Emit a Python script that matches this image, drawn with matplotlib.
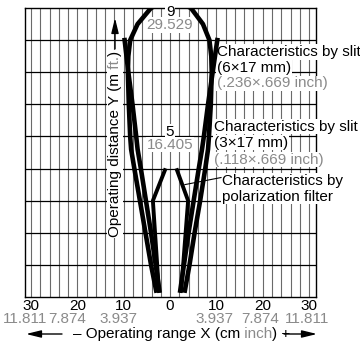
import matplotlib
matplotlib.use("Agg")
import matplotlib.pyplot as plt
from matplotlib.transforms import IdentityTransform

plt.rcParams['font.family'] = ['Liberation Sans', 'DejaVu Sans']

# slit curve reaching 9 m (outer near the bottom)
slit_a_y = [9.3, 9.0, 8.5, 8.0, 7.5, 7.0, 6.0, 5.0, 4.6, 4.0, 3.0, 2.0, 1.0, 0.2]
slit_a_xl = [0.0, -4.1, -7.0, -8.6, -9.0, -9.1, -8.9, -8.6, -8.4, -7.7, -6.5, -5.3, -4.1, -3.0]
slit_a_xr = [0.0, 4.5, 7.1, 8.5, 8.9, 9.0, 8.8, 8.4, 8.2, 7.6, 6.5, 5.3, 4.2, 3.2]

# slit curve starting at 8 m (inner near the bottom)
slit_b_y = [8.0, 7.0, 6.0, 5.0, 4.6, 4.0, 3.0, 2.0, 1.0, 0.2]
slit_b_xl = [-9.8, -9.0, -8.1, -7.3, -7.0, -6.3, -5.2, -4.1, -3.1, -2.3]
slit_b_xr = [10.2, 9.2, 8.2, 7.3, 6.9, 6.2, 5.1, 4.0, 3.0, 2.2]

# polarization filter
polar_y = [3.95, 3.0, 0.2]
polar_xl = [-1.1, -3.7, -2.4]
polar_xr = [1.5, 3.9, 2.4]

x_ticks = [-30, -20, -10, 0, 10, 20, 30]
x_tick_labels = ['30', '20', '10', '0', '10', '20', '30']
inch_ticks = [-30, -20, -10, 10, 20, 30]
inch_labels = ['11.811', '7.874', '3.937', '3.937', '7.874', '11.811']

GRAY = '#8a8a8a'
FS = 11

fig = plt.figure(figsize=(3.6, 3.41), dpi=100)
H = 341
ax = fig.add_axes([25 / 360, 1 - 297 / H, (316 - 25) / 360, (297 - 8) / H])
ax.set_xlim(-31.3, 31.5)
ax.set_ylim(0, 9)

for x in range(-30, 31, 2):
    ax.axvline(x, color='#6a6a6a', lw=0.8, zorder=1)
for y in range(1, 9):
    ax.axhline(y, color='black', lw=0.9, zorder=1)
for s in ax.spines.values():
    s.set_linewidth(1.0)

lw = 3.3
ax.plot(slit_a_xl, slit_a_y, color='black', lw=lw, zorder=4)
ax.plot(slit_a_xr, slit_a_y, color='black', lw=lw, zorder=4)
ax.plot(slit_b_xl, slit_b_y, color='black', lw=lw, zorder=4)
ax.plot(slit_b_xr, slit_b_y, color='black', lw=lw, zorder=4)
ax.plot(polar_xl, polar_y, color='black', lw=2.8, zorder=4)
ax.plot(polar_xr, polar_y, color='black', lw=2.8, zorder=4)

ax.set_xticks(x_ticks)
ax.set_xticklabels(x_tick_labels)
ax.set_yticks([])
ax.tick_params(axis='x', length=0, pad=1.5, labelsize=FS)

offs = [-6, -10, -5, -2, -3, -2]
for t, lab, dx in zip(inch_ticks, inch_labels, offs):
    ax.annotate(lab, xy=(t, 0), xycoords=('data', 'axes fraction'),
                xytext=(dx, -22), textcoords='offset pixels',
                ha='center', va='center', color=GRAY, fontsize=FS,
                annotation_clip=False)

box = dict(facecolor='white', edgecolor='none', pad=0.4)

# distance marks inside the chart
ax.text(0, 8.88, '9', ha='center', va='center', fontsize=FS, bbox=box, zorder=3)
ax.text(0, 8.47, '29.529', ha='center', va='center', fontsize=FS, color=GRAY, bbox=box, zorder=3)
ax.text(0, 5.15, '5', ha='center', va='center', fontsize=FS, bbox=box, zorder=3)
ax.text(0, 4.74, '16.405', ha='center', va='center', fontsize=FS, color=GRAY, bbox=box, zorder=3)

# curve labels
ax.text(10.15, 7.63, 'Characteristics by slit', va='center', fontsize=FS, bbox=box, zorder=3)
ax.text(10.15, 7.13, '(6\u00d717 mm)', va='center', fontsize=FS, bbox=box, zorder=3)
ax.text(10.15, 6.65, '(.236\u00d7.669 inch)', va='center', fontsize=FS, color=GRAY, bbox=box, zorder=3)

ax.text(9.5, 5.30, 'Characteristics by slit', va='center', fontsize=FS, bbox=box, zorder=3)
ax.text(9.5, 4.80, '(3\u00d717 mm)', va='center', fontsize=FS, bbox=box, zorder=3)
ax.text(9.5, 4.28, '(.118\u00d7.669 inch)', va='center', fontsize=FS, color=GRAY, bbox=box, zorder=3)

ax.text(11.2, 3.61, 'Characteristics by', va='center', fontsize=FS, bbox=box, zorder=3)
ax.text(11.2, 3.12, 'polarization filter', va='center', fontsize=FS, bbox=box, zorder=3)
ax.plot([3.2, 11.0], [3.5, 3.72], color='black', lw=0.8, zorder=3)

renderer = fig.canvas.get_renderer()


def chain(pieces, x, y, vertical):
    for s, c in pieces:
        t = fig.text(x, y, s, color=c, fontsize=FS, transform=IdentityTransform(),
                     rotation=90 if vertical else 0,
                     ha='center' if vertical else 'left',
                     va='bottom' if vertical else 'center',
                     bbox=box if vertical else None, zorder=3)
        bb = t.get_window_extent(renderer)
        if vertical:
            y = bb.y1
        else:
            x = bb.x1
    return x, y


# y axis title
_, ytop = chain([('Operating distance Y (m', 'black'), (' ft.', GRAY), (')', 'black')],
                115, H - 237, True)
arr = dict(arrowstyle='-|>,head_length=0.9,head_width=0.22', color='black', lw=1,
           shrinkA=0, shrinkB=0, mutation_scale=10)
ax.annotate('', xy=(115, H - 18), xytext=(115, ytop + 2), xycoords='figure pixels',
            textcoords='figure pixels', arrowprops=arr)

# x axis title
chain([('\u2013 Operating range X (cm', 'black'), (' inch', GRAY), (') +', 'black')],
      73, H - 334, False)
ax.annotate('', xy=(26, H - 334), xytext=(62, H - 334), xycoords='figure pixels',
            textcoords='figure pixels', arrowprops=arr)
ax.annotate('', xy=(317, H - 334), xytext=(284, H - 334), xycoords='figure pixels',
            textcoords='figure pixels', arrowprops=arr)

fig.savefig('out.png', dpi=100)
